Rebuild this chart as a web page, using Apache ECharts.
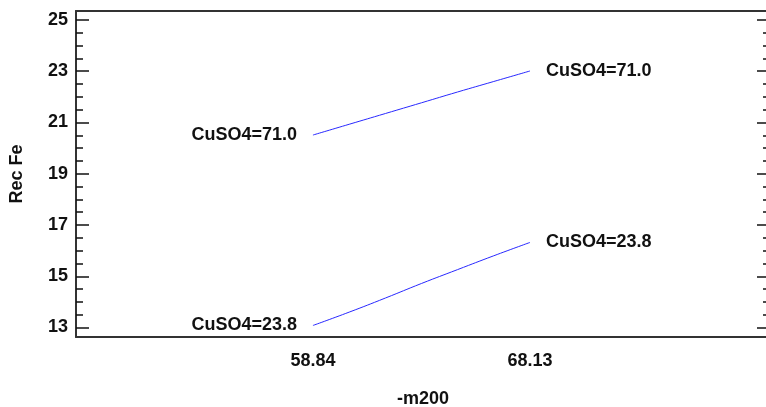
<!DOCTYPE html>
<html>
<head>
<meta charset="utf-8">
<script src="https://cdn.jsdelivr.net/npm/echarts@6/dist/echarts.min.js"></script>
<style>
  html, body { margin: 0; padding: 0; background: #fff; overflow: hidden; }
  #chart { width: 766px; height: 407px; }
</style>
</head>
<body>
<div id="chart"></div>
<script>
// values
var xVals = [58.84, 60.39, 61.94, 63.49, 65.03, 66.58, 68.13];
var recFeHigh = [20.51, 20.93, 21.35, 21.77, 22.19, 22.60, 23.01];
var recFeLow = [13.08, 13.60, 14.15, 14.72, 15.26, 15.80, 16.32];
var seriesNames = ['CuSO4=71.0', 'CuSO4=23.8'];
var xTickLabels = [58.84, 68.13];
var yMajorTicks = [13, 15, 17, 19, 21, 23, 25];
var yMinorTicks = [];
for (var v = 13; v <= 25; v += 0.5) {
    if (yMajorTicks.indexOf(v) < 0) yMinorTicks.push(v);
}

var font = 'Liberation Sans, Arial, sans-serif';
var txt = { fontFamily: font, fontWeight: 'bold', fontSize: 18, color: '#111' };
var frame = { color: '#333', width: 2 };

// labels only on the first and last point of each curve
function buildData(ys) {
    return xVals.map(function (x, i) {
        var item = { value: [x, ys[i]] };
        if (i === 0 || i === xVals.length - 1) {
            item.label = {
                show: true,
                position: i === 0 ? 'left' : 'right',
                distance: 16,
                formatter: '{a}',
                fontFamily: font, fontWeight: 'bold', fontSize: 18, color: '#111'
            };
        }
        return item;
    });
}

function yAx(pos, ticks, len, withLabels, withLine) {
    return {
        type: 'value', position: pos, min: 12.63, max: 25.35,
        name: withLabels ? 'Rec Fe' : '',
        nameLocation: 'middle', nameGap: 50, nameRotate: 90,
        nameTextStyle: txt,
        axisLine: { show: withLine, lineStyle: frame },
        splitLine: { show: false },
        axisTick: { show: true, inside: true, length: len, customValues: ticks,
                    lineStyle: { color: '#111', width: 1.5 } },
        axisLabel: { show: withLabels, customValues: yMajorTicks, margin: 8,
                     fontFamily: font, fontWeight: 'bold', fontSize: 18, color: '#111' }
    };
}

var chart = echarts.init(document.getElementById('chart'), null, { renderer: 'canvas' });
chart.setOption({
    animation: false,
    grid: { left: 76, top: 11, width: 694, height: 326, outerBoundsMode: 'none', containLabel: false },
    xAxis: [{
        type: 'value', min: 48.7, max: 78.4, position: 'bottom',
        name: '-m200', nameLocation: 'middle', nameGap: 53,
        nameTextStyle: txt,
        axisLine: { show: true, lineStyle: frame },
        axisTick: { show: false },
        splitLine: { show: false },
        axisLabel: { customValues: xTickLabels, margin: 15,
                     formatter: function (v) { return v.toFixed(2); },
                     fontFamily: font, fontWeight: 'bold', fontSize: 18, color: '#111' }
    }, {
        type: 'value', min: 48.7, max: 78.4, position: 'top',
        axisLine: { show: true, lineStyle: frame },
        axisTick: { show: false },
        axisLabel: { show: false },
        splitLine: { show: false }
    }],
    yAxis: [
        yAx('left', yMajorTicks, 13, true, true),
        yAx('left', yMinorTicks, 7, false, false),
        yAx('right', yMajorTicks, 13, false, false),
        yAx('right', yMinorTicks, 7, false, false)
    ],
    series: [
        { name: seriesNames[0], type: 'line', yAxisIndex: 0, data: buildData(recFeHigh),
          showSymbol: true, symbol: 'circle', symbolSize: 0, smooth: true,
          itemStyle: { color: '#2828ff' },
          lineStyle: { color: '#2828ff', width: 1 } },
        { name: seriesNames[1], type: 'line', yAxisIndex: 0, data: buildData(recFeLow),
          showSymbol: true, symbol: 'circle', symbolSize: 0, smooth: true,
          itemStyle: { color: '#2828ff' },
          lineStyle: { color: '#2828ff', width: 1 } }
    ]
});
</script>
</body>
</html>
